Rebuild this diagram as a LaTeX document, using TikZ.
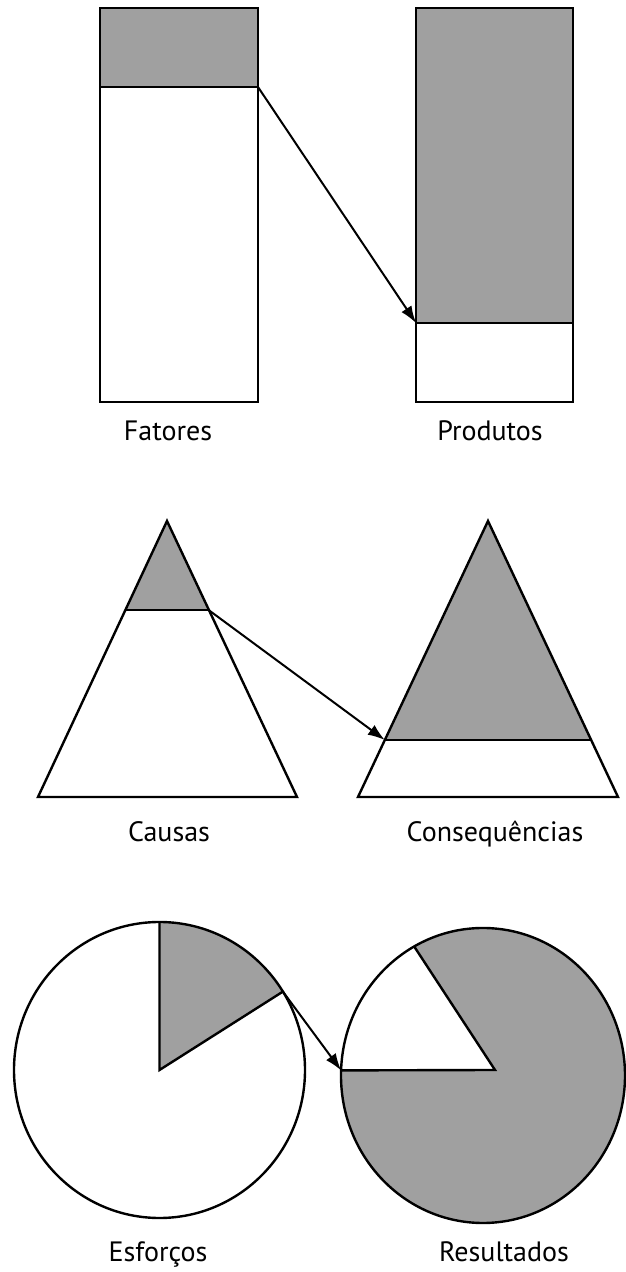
\documentclass[tikz,border=0pt]{standalone}
\usepackage{fontspec}
\setmainfont{PT Sans}
\usetikzlibrary{arrows.meta}
\definecolor{shade}{RGB}{160,160,160}
\begin{document}
\begin{tikzpicture}[x=1pt,y=1pt,
  outline/.style={draw=black,line width=2.4pt,line join=miter},
  shaded/.style={fill=shade},
  conn/.style={draw=black,line width=2pt,-{Latex[length=17pt,width=12pt]}},
  lbl/.style={anchor=base,inner sep=0pt,font=\fontsize{28}{32}\selectfont}]
\useasboundingbox[fill=white] (0,0) rectangle (626,1272);
% ---------- rectangles ----------
\fill[shaded] (100,1185) rectangle (258,1264);
\fill[shaded] (416,949) rectangle (573,1264);
\draw[outline] (100,870) rectangle (258,1264);
\draw[outline] (100,1185) -- (258,1185);
\draw[outline] (416,870) rectangle (573,1264);
\draw[outline] (416,949) -- (573,949);
\coordinate (fatA) at (258,1185);
\coordinate (proA) at (416,949);
\draw[conn] (fatA) -- (proA);
\node[lbl] (fatores) at (168,831) {Fatores};
\node[lbl] (produtos) at (490,831) {Produtos};
% ---------- triangles ----------
\fill[shaded] (167,751) -- (125.4,662) -- (208.6,662) -- cycle;
\fill[shaded] (488,751) -- (384.8,532) -- (591.2,532) -- cycle;
\draw[outline] (167,751) -- (38,475) -- (297,475) -- cycle;
\draw[outline] (125.4,662) -- (208.6,662);
\draw[outline] (488,751) -- (358,475) -- (618,475) -- cycle;
\draw[outline] (384.8,532) -- (591.2,532);
\coordinate (cauA) at (208.6,662);
\coordinate (conA) at (384.8,532);
\draw[conn] (cauA) -- (conA);
\node[lbl] (causas) at (169,430) {Causas};
\node[lbl] (consequencias) at (495,430) {Consequências};
% ---------- circles ----------
\fill[shaded] (159.5,202) -- ++(32:145.5 and 148) arc[start angle=32,end angle=90,x radius=145.5,y radius=148] -- cycle;
\draw[outline] (159.5,202) ellipse[x radius=145.5,y radius=148];
\draw[outline] (159.5,350) -- (159.5,202) -- (282.9,280.4);
\fill[shaded] (483,196.5) ellipse[x radius=142,y radius=147.5];
\fill[white] (495,202) -- (341.1,201.6) arc[start angle=178,end angle=119,x radius=142,y radius=147.5] -- cycle;
\draw[outline] (483,196.5) ellipse[x radius=142,y radius=147.5];
\draw[outline] (341.1,201.6) -- (495,202) -- (414.2,325.5);
\coordinate (esfA) at (282.9,280.4);
\coordinate (resA) at (341.1,201.6);
\draw[conn] (esfA) -- (resA);
\node[lbl] (esforcos) at (158,10) {Esforços};
\node[lbl] (resultados) at (504,10) {Resultados};
\end{tikzpicture}
\end{document}
